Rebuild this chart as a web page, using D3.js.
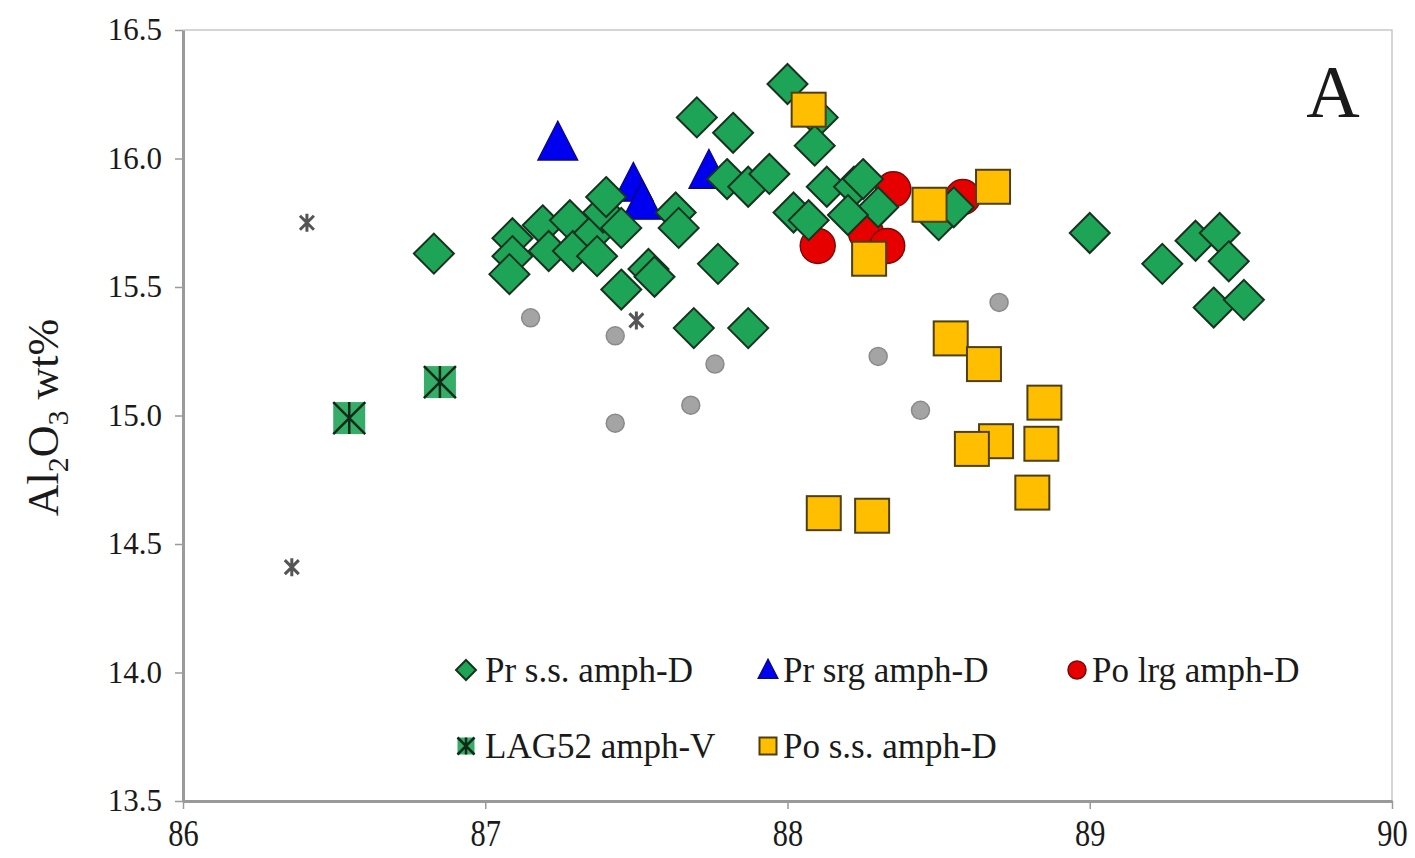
<!DOCTYPE html>
<html>
<head>
<meta charset="utf-8">
<script src="https://cdn.jsdelivr.net/npm/d3@7"></script>
<style>
  html, body { margin: 0; padding: 0; background: #fff; }
  svg { display: block; }
  text { font-family: "Liberation Serif", "Times New Roman", serif; fill: #1a1a1a; }
</style>
</head>
<body>
<svg id="chart" width="1415" height="858"></svg>
<script>
// Mg# (x) vs Al2O3 wt% (y) for amphibole analyses

const xTicks = [86, 87, 88, 89, 90];
const yTicks = [13.5, 14.0, 14.5, 15.0, 15.5, 16.0, 16.5];

// Pr s.s. amph-D (green diamonds)
const prSs = [
  [86.83, 15.63], [87.09, 15.69], [87.09, 15.62], [87.08, 15.55], [87.19, 15.74],
  [87.21, 15.64], [87.28, 15.76], [87.29, 15.64], [87.36, 15.71], [87.39, 15.79],
  [87.40, 15.85], [87.37, 15.62], [87.45, 15.73], [87.45, 15.49], [87.54, 15.57],
  [87.56, 15.54], [87.63, 15.79], [87.64, 15.73], [87.77, 15.59], [87.69, 15.34],
  [87.87, 15.34], [87.70, 16.16], [87.82, 16.10], [87.80, 15.92], [87.87, 15.89],
  [87.94, 15.94], [88.00, 16.29], [88.10, 16.16], [88.09, 16.05], [88.13, 15.89],
  [88.22, 15.89], [88.25, 15.92], [88.30, 15.81], [88.20, 15.78], [88.02, 15.79],
  [88.07, 15.76], [88.50, 15.76], [88.55, 15.81], [89.00, 15.71], [89.24, 15.59],
  [89.35, 15.68], [89.43, 15.71], [89.46, 15.60], [89.41, 15.42], [89.51, 15.45]
];

// Pr srg amph-D (blue triangles)
const prSrg = [[87.24, 16.06], [87.49, 15.90], [87.52, 15.83], [87.74, 15.95]];

// Po lrg amph-D (red circles)
const poLrg = [[88.10, 15.66], [88.26, 15.71], [88.33, 15.66], [88.35, 15.88], [88.58, 15.85]];

// LAG52 amph-V (green squares with asterisk)
const lag52 = [[86.55, 14.99], [86.85, 15.13]];

// Po s.s. amph-D (yellow squares)
const poSs = [
  [88.07, 16.19], [88.27, 15.61], [88.47, 15.82], [88.68, 15.89], [88.54, 15.30],
  [88.65, 15.20], [88.85, 15.05], [88.69, 14.90], [88.61, 14.87], [88.84, 14.89],
  [88.81, 14.70], [88.12, 14.62], [88.28, 14.61]
];

// Unlabelled reference analyses (grey dots and grey asterisks)
const greyDots = [
  [87.15, 15.38], [87.43, 15.31], [87.43, 14.97], [87.68, 15.04],
  [87.76, 15.20], [88.30, 15.23], [88.44, 15.02], [88.70, 15.44]
];
const greyStars = [[86.41, 15.75], [87.50, 15.37], [86.36, 14.41]];

const legendItems = [
  { label: "Pr s.s. amph-D", kind: "diamond" },
  { label: "Pr srg amph-D", kind: "triangle" },
  { label: "Po lrg amph-D", kind: "circle" },
  { label: "LAG52 amph-V", kind: "lag" },
  { label: "Po s.s. amph-D", kind: "square" }
];

const styles = {
  diamond:  { fill: "#1ea456", stroke: "#17331f" },
  triangle: { fill: "#0000ee", stroke: "#0a0a70" },
  circle:   { fill: "#e60000", stroke: "#7a0a0a" },
  lag:      { fill: "#35ad68", stroke: "#0d2a16" },
  square:   { fill: "#ffbf00", stroke: "#4e3f12" }
};

const W = 1415, H = 858;
const margin = { left: 183, right: 23, top: 30, bottom: 57 };
const svg = d3.select("#chart");

const x = d3.scaleLinear().domain([86, 90]).range([margin.left, W - margin.right]);
const y = d3.scaleLinear().domain([13.5, 16.5]).range([H - margin.bottom, margin.top]);

// plot frame (top and right)
svg.append("path")
  .attr("d", `M${x(86)},${y(16.5)}H${x(90)}V${y(13.5)}`)
  .attr("fill", "none").attr("stroke", "#c8c8c8").attr("stroke-width", 1.5);

// axes
const yAxis = svg.append("g")
  .attr("transform", `translate(${x(86)},0)`)
  .call(d3.axisLeft(y).tickValues(yTicks).tickFormat(d3.format(".1f")).tickSize(8).tickSizeOuter(0).tickPadding(13));
const xAxis = svg.append("g")
  .attr("transform", `translate(0,${y(13.5)})`)
  .call(d3.axisBottom(x).tickValues(xTicks).tickFormat(d3.format("d")).tickSize(8).tickSizeOuter(0));

[yAxis, xAxis].forEach(g => {
  g.select(".domain").attr("stroke", "#9a9a9a").attr("stroke-width", 3);
  g.selectAll(".tick line").attr("stroke", "#9a9a9a").attr("stroke-width", 1.5);
});
yAxis.selectAll(".tick text")
  .attr("font-size", 31).attr("font-family", "Liberation Serif, serif").attr("fill", "#222");
xAxis.selectAll(".tick text")
  .attr("font-size", 38).attr("font-family", "Liberation Serif, serif").attr("fill", "#222")
  .attr("transform", "scale(0.8,1)").attr("x", 0).attr("y", 18).attr("dy", "0.72em");

// y-axis title: Al2O3 wt%
const yt = svg.append("text")
  .attr("transform", `translate(58,${(y(16.5) + y(13.5)) / 2 + 2}) rotate(-90)`)
  .attr("text-anchor", "middle")
  .attr("font-size", 44);
yt.append("tspan").text("Al");
yt.append("tspan").attr("font-size", 30).attr("dy", 10).text("2");
yt.append("tspan").attr("dy", -10).text("O");
yt.append("tspan").attr("font-size", 30).attr("dy", 10).text("3");
yt.append("tspan").attr("dy", -10).text(" wt%");

// panel letter
svg.append("text")
  .attr("x", 1333).attr("y", 117)
  .attr("text-anchor", "middle")
  .attr("font-size", 74)
  .text("A");

// marker shape helpers (size = half-extent in px)
function drawMarker(g, kind, s) {
  const st = styles[kind];
  if (kind === "diamond") {
    g.append("path").attr("d", `M0,${-s}L${s},0L0,${s}L${-s},0Z`)
      .attr("fill", st.fill).attr("stroke", st.stroke).attr("stroke-width", 2);
  } else if (kind === "triangle") {
    g.append("path").attr("d", `M0,${-s * 1.1}L${s},${s * 0.85}L${-s},${s * 0.85}Z`)
      .attr("fill", st.fill).attr("stroke", st.stroke).attr("stroke-width", 1.2);
  } else if (kind === "circle") {
    g.append("circle").attr("r", s)
      .attr("fill", st.fill).attr("stroke", st.stroke).attr("stroke-width", 1.5);
  } else if (kind === "square") {
    g.append("rect").attr("x", -s).attr("y", -s).attr("width", 2 * s).attr("height", 2 * s)
      .attr("fill", st.fill).attr("stroke", st.stroke).attr("stroke-width", 2);
  } else if (kind === "lag") {
    g.append("rect").attr("x", -s).attr("y", -s).attr("width", 2 * s).attr("height", 2 * s)
      .attr("fill", st.fill).attr("stroke", "none");
    g.append("path")
      .attr("d", `M${-s},${-s}L${s},${s}M${s},${-s}L${-s},${s}M0,${-s}V${s}`)
      .attr("stroke", st.stroke).attr("stroke-width", 2.5).attr("fill", "none");
  }
}

function plotSeries(data, kind, s) {
  const g = svg.append("g");
  data.forEach(d => {
    const m = g.append("g").attr("transform", `translate(${x(d[0])},${y(d[1])})`);
    drawMarker(m, kind, s);
  });
}

// grey reference analyses
svg.append("g").selectAll("circle").data(greyDots).join("circle")
  .attr("cx", d => x(d[0])).attr("cy", d => y(d[1])).attr("r", 9)
  .attr("fill", "#a4a4a4").attr("stroke", "#8a8a8a").attr("stroke-width", 1.5);
svg.append("g").selectAll("path").data(greyStars).join("path")
  .attr("transform", d => `translate(${x(d[0])},${y(d[1])})`)
  .attr("d", "M-7,-7L7,7M7,-7L-7,7M0,-9V9")
  .attr("stroke", "#555").attr("stroke-width", 3).attr("fill", "none");

plotSeries(lag52, "lag", 16);
plotSeries(prSrg, "triangle", 20);
plotSeries(poLrg, "circle", 17.5);
plotSeries(prSs, "diamond", 20);
plotSeries(poSs, "square", 17);

// legend
const legPos = [
  { sx: 466, tx: 485, y: 670 },
  { sx: 768, tx: 783, y: 670 },
  { sx: 1077, tx: 1092, y: 670 },
  { sx: 466, tx: 485, y: 746 },
  { sx: 768, tx: 783, y: 746 }
];
const legSize = { diamond: 10, triangle: 10, circle: 9, lag: 8.5, square: 8.5 };
legendItems.forEach((it, i) => {
  const p = legPos[i];
  const m = svg.append("g").attr("transform", `translate(${p.sx},${p.y})`);
  drawMarker(m, it.kind, legSize[it.kind]);
  svg.append("text").attr("x", p.tx).attr("y", p.y + 12)
    .attr("font-size", 35).text(it.label);
});
</script>
</body>
</html>
